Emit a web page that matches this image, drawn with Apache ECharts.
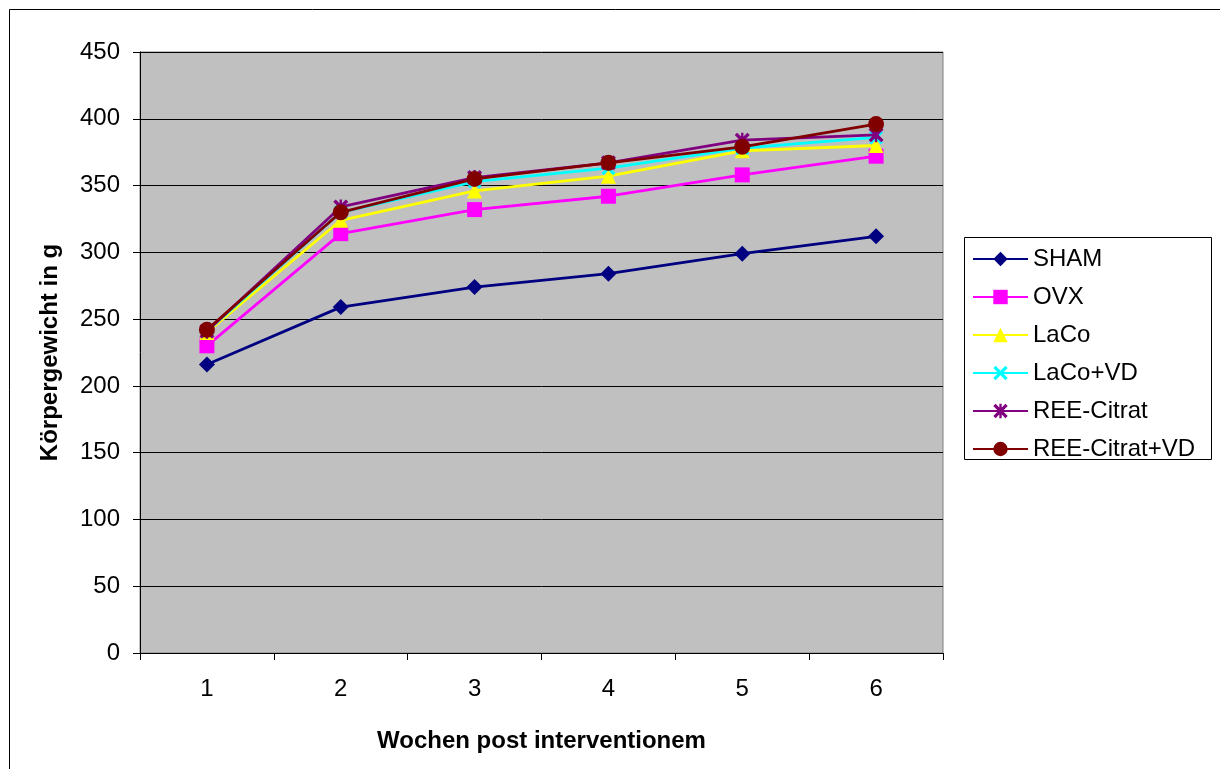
<!DOCTYPE html>
<html>
<head>
<meta charset="utf-8">
<script src="https://cdn.jsdelivr.net/npm/echarts@6/dist/echarts.min.js"></script>
<style>
html,body{margin:0;padding:0;background:#fff;}
#chart{width:1220px;height:769px;}
</style>
</head>
<body>
<div id="chart"></div>
<script>
const categories = ['1', '2', '3', '4', '5', '6'];
const yTicks = {min: 0, max: 450, interval: 50};
const seriesNames = ['SHAM', 'OVX', 'LaCo', 'LaCo+VD', 'REE-Citrat', 'REE-Citrat+VD'];
const sham = [216, 259, 274, 284, 299, 312];
const ovx = [230, 314, 332, 342, 358, 372];
const laco = [240, 324, 346, 357, 376, 380];
const lacoVD = [241, 330, 353, 363, 378, 386];
const reeCitrat = [241, 334, 356, 367, 384, 388];
const reeCitratVD = [242, 330, 355, 367, 379, 396];

const seriesData = [sham, ovx, laco, lacoVD, reeCitrat, reeCitratVD];
const colors = ['#000080', '#FF00FF', '#FFFF00', '#00FFFF', '#800080', '#800000'];
const xPath = 'path://M0,1.6L1.6,0L5,3.4L8.4,0L10,1.6L6.6,5L10,8.4L8.4,10L5,6.6L1.6,10L0,8.4L3.4,5Z';
const starPath = 'path://M0,1.6L1.6,0L5,3.4L8.4,0L10,1.6L6.6,5L10,8.4L8.4,10L5,6.6L1.6,10L0,8.4L3.4,5ZM4.2,0L5.8,0L5.8,10L4.2,10Z';
const symbols = ['diamond', 'rect', 'triangle', xPath, starPath, 'circle'];
const sizes = [16, 15, 15, 14, 15, 16];

const font = "'Liberation Sans', Arial, sans-serif";
const chart = echarts.init(document.getElementById('chart'));
chart.setOption({
  animation: false,
  backgroundColor: '#ffffff',
  graphic: [
    {type: 'rect', shape: {x: 9.5, y: 9.5, width: 1400, height: 1000}, style: {fill: 'none', stroke: '#000', lineWidth: 1}, z: -10},
    {type: 'rect', shape: {x: 964.5, y: 237.5, width: 247, height: 222}, style: {fill: '#fff', stroke: '#000', lineWidth: 1}, z: -5}
  ],
  grid: {left: 140, top: 52, right: 277, bottom: 116, show: true, backgroundColor: '#C0C0C0', borderColor: '#808080', borderWidth: 1},
  legend: {
    orient: 'vertical', left: 972, top: 245, padding: 0,
    itemWidth: 55, itemHeight: 18, itemGap: 10,
    textStyle: {fontFamily: font, fontSize: 24, color: '#000', lineHeight: 28},
    data: seriesNames
  },
  xAxis: {
    type: 'category', data: categories, boundaryGap: true,
    name: 'Wochen post interventionem', nameLocation: 'middle', nameGap: 76,
    nameTextStyle: {fontFamily: font, fontSize: 24, fontWeight: 'bold', color: '#000'},
    axisLine: {lineStyle: {color: '#000', width: 1}},
    axisTick: {show: true, length: 7, lineStyle: {color: '#000'}, alignWithLabel: false},
    axisLabel: {fontFamily: font, fontSize: 24, color: '#000', margin: 24},
    splitLine: {show: false}
  },
  yAxis: {
    type: 'value', min: yTicks.min, max: yTicks.max, interval: yTicks.interval,
    name: 'Körpergewicht in g', nameLocation: 'middle', nameGap: 78, nameRotate: 90,
    nameTextStyle: {fontFamily: font, fontSize: 24, fontWeight: 'bold', color: '#000'},
    axisLine: {show: true, lineStyle: {color: '#000', width: 1}},
    axisTick: {show: true, length: 7, lineStyle: {color: '#000'}},
    axisLabel: {fontFamily: font, fontSize: 24, color: '#000', margin: 20},
    splitLine: {show: true, lineStyle: {color: '#000', width: 1}}
  },
  series: seriesNames.map((n, i) => ({
    name: n, type: 'line', data: seriesData[i],
    symbol: symbols[i], symbolSize: sizes[i], showAllSymbol: true,
    lineStyle: {color: colors[i], width: 2.8},
    itemStyle: {color: colors[i]},
    z: 2 + i
  }))
});
</script>
</body>
</html>
